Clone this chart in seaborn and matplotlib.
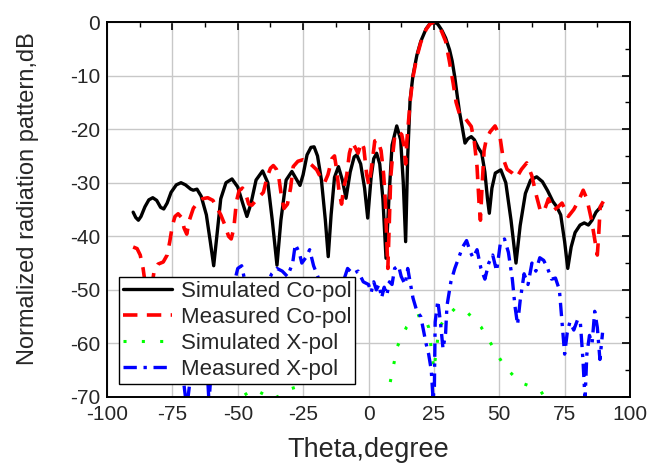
import matplotlib
matplotlib.use("Agg")
import matplotlib.pyplot as plt
import seaborn as sns
import pandas as pd
from matplotlib.ticker import MultipleLocator

# ---------------- data ----------------
sim_co_theta = [-90, -89, -88, -87, -85.5, -84, -82.5, -81, -79.5, -78.3, -77, -75.5, -73.5, -71.7,
                -70, -68, -67, -65.6, -64, -62, -60.5, -59.2, -58, -56.5, -54.5, -52.2, -50, -48,
                -46.5, -45, -43, -40.5, -38.5, -36.8, -35, -33.5, -31.5, -29.3, -27.5, -26.2, -25,
                -23.5, -22, -20.8, -19.5, -18, -16.5, -15.4, -14.3, -13, -11.5, -10, -8.6, -7, -5.5,
                -4.5, -3, -1.5, -0.3, 1, 2, 3.1, 4.3, 5.5, 6.7, 7.8, 9, 10.8, 12.3, 13.3, 14.2, 15,
                15.9, 17, 18.5, 20, 22, 23.5, 25, 26.5, 28, 29.5, 31, 32, 33, 33.8, 34.8, 35.8, 36.9,
                38, 39.3, 40.5, 42, 43.3, 44.5, 45.5, 46.2, 47.2, 48.5, 50.6, 52.5, 54.5, 56.4, 58,
                60, 62, 64.3, 66.5, 68.5, 70.5, 72, 73.5, 75, 76.2, 77.5, 79, 80.9, 82.5, 84.1, 85.5,
                87, 89.2]
sim_co_db = [-35.5, -36.5, -37.0, -36.3, -34.5, -33.2, -32.8, -33.3, -34.6, -34.9, -33.8, -31.8, -30.4,
             -30.0, -30.4, -31.2, -31.4, -31.2, -32.5, -36, -41, -45.5, -40, -33, -30, -29.3, -30.8,
             -34, -36.3, -34, -29.5, -27.8, -30, -37, -45.4, -37, -29.5, -27.9, -29.4, -30.5, -28.5,
             -24.8, -23.4, -23.3, -25, -29.5, -37, -43.8, -36, -29, -27.0, -29.5, -32.9, -28, -25.2,
             -24.8, -26.5, -31, -36.6, -29, -25.5, -24.5, -26.5, -33, -44.1, -33, -23, -19.4, -22,
             -30, -41.0, -25, -14.6, -10, -6.2, -3.6, -1.3, -0.3, 0, -0.4, -1.5, -3.0, -5.2, -7.3,
             -10.3, -13.3, -16.8, -19.5, -22.6, -21.8, -21.4, -22, -23.5, -24.5, -28, -33, -35.7, -31,
             -28.2, -27.6, -30, -37, -45.0, -38, -32, -29.5, -28.9, -29.8, -31.5, -33.5, -34.5, -36,
             -41, -46.0, -42, -39.3, -37.9, -37.5, -37.9, -37, -35.5, -34.3]

meas_co_theta = [-90, -88.5, -87.3, -86.2, -85.2, -84.3, -83.3, -82, -80.5, -78.5, -77, -76, -75, -74,
                 -72.8, -71.5, -70.5, -69.5, -68.5, -67, -65.5, -63.5, -61.5, -59.5, -58, -56.5, -55,
                 -53.5, -52.5, -51.5, -50.5, -49.5, -48.2, -47, -45.8, -44.6, -42.5, -40.2, -38.8,
                 -37.5, -36.4, -35.2, -34.3, -33.3, -32.3, -31, -29.8, -28.8, -27, -25, -23.5, -21.5,
                 -19.8, -18, -16.8, -15.5, -14, -13, -12.2, -11.3, -10.3, -9.5, -8.3, -7.3, -6.2, -5,
                 -4, -2.7, -1.8, -0.7, 0.2, 1.2, 2.4, 3.5, 4.8, 5.8, 6.5, 7.0, 7.4, 7.9, 8.5, 9.2,
                 10.1, 11.5, 12.7, 13.5, 14.2, 14.7, 15.3, 16, 17, 18.5, 20, 22, 23.5, 25, 26.5, 28,
                 29.5, 31, 32.4, 33.5, 35, 37, 39.3, 40.5, 41.5, 42.3, 42.8, 43.4, 44.2, 45, 46.5,
                 48.4, 50.3, 51.5, 53, 55, 56.7, 58.5, 60.5, 62.4, 64.3, 65.6, 67, 68.8, 70.7, 72.5,
                 74, 76.4, 78.5, 80.2, 82.1, 83.5, 85.3, 86.5, 87.5, 88, 88.6, 89.8]
meas_co_db = [-42, -42.3, -43.5, -46, -49.5, -52, -51, -46.5, -45.2, -44.8, -43.5, -41, -38, -36.3,
              -35.8, -36.5, -38.5, -39.6, -37, -34.8, -33.8, -33, -32.8, -33.3, -34.6, -36, -37.8,
              -40, -40.5, -38.5, -33.5, -31.5, -31, -32, -34, -34.2, -33, -31.8, -29, -27.3, -26.8,
              -27.5, -29, -32.5, -34.8, -34, -31, -27, -26, -25.7, -26, -26.8, -27.6, -29.3, -30,
              -28.5, -25.5, -25, -27.5, -31.5, -34, -31, -28.5, -24.5, -22.5, -23.5, -24.5, -22.5,
              -23.5, -28.5, -30.5, -27, -22.2, -22, -24, -28.5, -34, -41, -46, -38, -29, -25, -21,
              -20.5, -21, -23, -26.5, -22, -18.5, -14.5, -10.3, -6.5, -3.8, -1.4, -0.4, 0, -0.5,
              -1.8, -3.6, -7.5, -11.5, -15, -17.5, -18, -19.5, -22.5, -27, -34, -37, -31, -24, -22,
              -20.5, -19.4, -21.5, -25.5, -27.5, -28.2, -29, -27.5, -26.3, -28.6, -32.6, -35, -35.5,
              -33, -35.2, -34.5, -33.8, -36.3, -35, -33.5, -31.4, -33, -37, -40.5, -43.5, -40,
              -34.5, -33.5]

sim_x_theta = [-75, -70, -64, -58, -52, -47, -44, -40, -37, -33, -30, -28, -25, -20, -10, 0, 5, 8,
               9.5, 11, 14.6, 18, 21, 23, 25, 27, 29.5, 33, 37, 43, 47.5, 52, 58, 62, 66, 70, 75]
sim_x_db = [-76, -72, -70.4, -72, -71, -69.5, -68.5, -69.5, -70.5, -69.5, -68.5, -68.2, -71, -75,
            -78, -78, -74, -68, -64.3, -60.6, -56.9, -55, -54.5, -57, -65, -57, -55.3, -53.5, -53.8,
            -56.9, -60.6, -64.3, -67.3, -68, -69, -72, -76]

meas_x_theta = [-90, -80, -72, -69.5, -68, -65, -62, -61, -60, -57, -53, -50, -48.5, -47, -45, -40,
                -37, -35, -33, -31, -29, -28, -26.5, -25.5, -24, -22.5, -21, -19, -15, -10, -8, -6,
                -4, -2, 0, 1, 2, 3, 4, 5, 6, 7, 8, 9, 10, 11.5, 12.5, 14, 15, 17, 18.5, 20, 21, 22,
                23, 24, 24.7, 25.2, 25.5, 26.5, 27.5, 28.5, 29.5, 30, 31.5, 33, 34.5, 36, 37.5, 39,
                40, 41.5, 43, 44.5, 46, 47.5, 49, 50.5, 52, 53.5, 55, 56, 57, 58, 59.5, 61, 62.5, 64,
                65.5, 67, 68.5, 70, 71.5, 73, 74, 75, 76, 77, 78.5, 80, 81, 82, 82.8, 83.5, 84.5,
                85.5, 86.5, 87.5, 88.5, 89.5]
meas_x_db = [-60, -58, -62, -72, -66, -58, -62, -71, -64, -56, -52, -46, -45.5, -49, -52, -50, -47,
             -46, -46.5, -47.5, -45, -41.5, -43, -45, -44, -42.5, -45.5, -48, -50, -49, -46, -47,
             -46.5, -48.5, -49, -50.5, -48.5, -50, -49, -51.5, -49.5, -51, -48.5, -49, -46, -45.5,
             -47.5, -49, -46, -51.5, -54, -55, -57.5, -60, -62, -65, -70.5, -68, -56, -52, -56, -61,
             -58, -53, -48.5, -46, -44, -42, -40.8, -43, -44, -42.5, -46, -48, -45, -43.5, -46.5,
             -41, -40.5, -43, -48, -53, -56.5, -52, -47, -49, -45, -46.5, -44, -44.5, -46, -48,
             -47.8, -50, -56, -62, -58, -56, -57.5, -55.5, -56, -63, -70.5, -62, -58.5, -60, -54,
             -57, -63, -58]

labels = ["Simulated Co-pol", "Measured Co-pol", "Simulated X-pol", "Measured X-pol"]
colors = ["#000000", "#ff0000", "#00ff00", "#0000ff"]

# ---------------- figure ----------------
sns.set_style("white")
plt.rcParams['font.family'] = ['Liberation Sans', 'DejaVu Sans']
plt.rcParams['axes.unicode_minus'] = False

fig = plt.figure(figsize=(6.48, 4.67), dpi=100)
ax = fig.add_axes([107 / 648, 1 - 397 / 467, 523 / 648, 375 / 467])

series = [
    (sim_co_theta, sim_co_db, dict(lw=2.4, linestyle='-')),
    (meas_co_theta, meas_co_db, dict(lw=2.6, linestyle=(0, (4, 2.6)))),
    (sim_x_theta, sim_x_db, dict(lw=2.2, linestyle=(0, (1, 5)))),
    (meas_x_theta, meas_x_db, dict(lw=2.4, linestyle=(0, (4, 2, 1, 2)))),
]
for (x, y, st), lab, c in zip(series, labels, colors):
    df = pd.DataFrame({"theta": x, "db": y})
    sns.lineplot(data=df, x="theta", y="db", ax=ax, color=c, label=lab,
                 estimator=None, sort=False, **st)

ax.set_xlim(-100, 100)
ax.set_ylim(-70, 0)
ax.xaxis.set_major_locator(MultipleLocator(25))
ax.xaxis.set_minor_locator(MultipleLocator(12.5))
ax.yaxis.set_major_locator(MultipleLocator(10))
ax.yaxis.set_minor_locator(MultipleLocator(5))
ax.grid(True, which='major', color='#c8c8c8', lw=1.0)
ax.set_axisbelow(True)
ax.tick_params(which='both', direction='in', top=True, right=True, labelsize=15,
               color='black')
ax.tick_params(which='major', length=6, width=1.2)
ax.tick_params(which='minor', length=3.5, width=1.0)
ax.tick_params(axis='x', pad=6)
ax.tick_params(axis='y', pad=5)
for s in ax.spines.values():
    s.set_color('black')
    s.set_linewidth(1.4)

ax.set_xlabel("Theta,degree", fontsize=19.5, labelpad=9)
ax.set_ylabel("Normalized radiation pattern,dB", fontsize=17, labelpad=22)
ax.yaxis.label.set_y(0.53)

leg = ax.legend(loc='lower left', bbox_to_anchor=(0.023, 0.035), borderaxespad=0,
                fontsize=16, frameon=True, fancybox=False, framealpha=1,
                edgecolor='black', handlelength=2.2, handletextpad=0.4,
                labelspacing=0.22, borderpad=0.18)
leg.get_frame().set_linewidth(1.0)

fig.savefig("out.png", dpi=100)
